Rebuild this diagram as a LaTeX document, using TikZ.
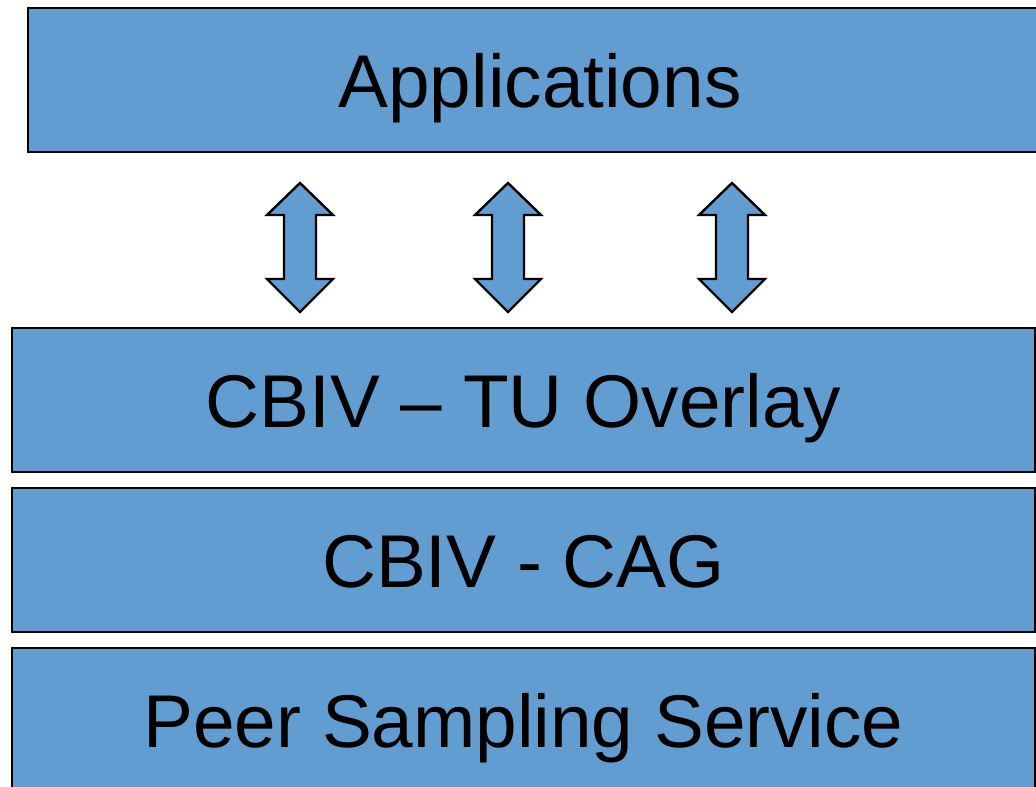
\documentclass[tikz,border=0pt]{standalone}
\usepackage{fontspec}
\setmainfont{Liberation Sans}
\begin{document}
\begin{tikzpicture}[x=1bp,y=-1bp,
  layer/.style={draw=black, line width=2.2bp, fill=layerblue, rectangle,
    minimum height=144bp, inner sep=0pt, text height=54bp, text depth=0pt,
    font=\fontsize{75}{80}\selectfont},
  updown/.style={draw=black, line width=2.4bp, fill=layerblue, line join=miter}]
\definecolor{layerblue}{HTML}{629DD1}
\useasboundingbox (0,0) rectangle (1036,787);
\clip (0,0) rectangle (1036,787);

% protocol stack layers
\node[layer, minimum width=1024bp] (apps) at (540,80) {Applications};
\node[layer, minimum width=1023bp] (overlay) at (523.5,400) {CBIV \textendash{} TU Overlay};
\node[layer, minimum width=1023bp] (cag) at (523.5,560) {CBIV - CAG};
\node[layer, minimum width=1023bp] (pss) at (523.5,720) {Peer Sampling Service};

% two-way arrows between the application layer and the overlay
\foreach \cx in {300, 508, 732}{
  \draw[updown] (\cx,183) -- ++(33,32) -- ++(-17,0) -- ++(0,64) -- ++(17,0)
    -- (\cx,312) -- ++(-33,-33) -- ++(17,0) -- ++(0,-64) -- ++(-17,0) -- cycle;
}
\end{tikzpicture}
\end{document}
